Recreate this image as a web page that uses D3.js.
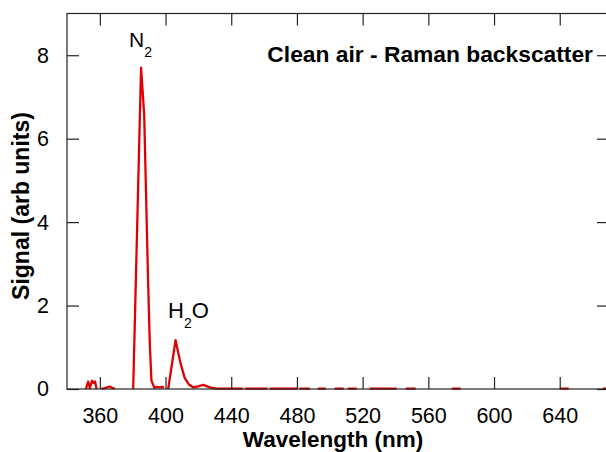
<!DOCTYPE html>
<html>
<head>
<meta charset="utf-8">
<script src="https://cdn.jsdelivr.net/npm/d3@7/dist/d3.min.js"></script>
<style>
  body { margin: 0; background: #fff; }
  svg { display: block; font-family: "Liberation Sans", Arial, sans-serif; }
</style>
</head>
<body>
<svg id="chart" width="606" height="452"></svg>
<script>
// Data (wavelength nm, signal arb units; null = gap)
const wavelength = [
  351.5, 352.9, 353.9, 355.3, 356.3, 357.1, 358.0, null,
  361.0, 363.0, 366.1, 367.3, 369.1, null,
  380.3, 385.1, 387.0, 389.3, 390.4, 391.4, 393.2, 394.7, 396.5, 398.3, 399.0, null,
  401.6, 406.1, 409.1, 411.7, 414.4, 416.8, 419.6, 422.9, 427.0, 431.0, 440.0, 447.0, null,
  448.5, 462.0, null,
  463.5, 480.0, null,
  481.7, 487.8, null,
  492.7, 497.5, null,
  503.0, 508.5, null,
  510.9, 516.4, null,
  524.3, 540.8, null,
  546.2, 552.3, null,
  574.2, 579.7, null,
  640.0, 645.5, null,
  666.2, 670.0
];
const signal = [
  0.0, 0.18, 0.02, 0.2, 0.14, 0.18, 0.0, null,
  0.01, 0.02, 0.06, 0.03, 0.01, null,
  0.0, 7.7, 6.57, 2.7, 1.1, 0.2, 0.03, 0.05, 0.04, 0.05, 0.03, null,
  0.0, 1.17, 0.62, 0.26, 0.1, 0.04, 0.06, 0.1, 0.04, 0.01, 0.01, 0.01, null,
  0.01, 0.01, null,
  0.01, 0.01, null,
  0.01, 0.01, null,
  0.01, 0.01, null,
  0.01, 0.01, null,
  0.01, 0.01, null,
  0.01, 0.01, null,
  0.01, 0.01, null,
  0.01, 0.01, null,
  0.01, 0.01, null,
  0.01, 0.01
];
const xTicks = [360, 400, 440, 480, 520, 560, 600, 640];
const yTicks = [0, 2, 4, 6, 8];
const xDomain = [340, 670];
const yDomain = [0, 9];

const svg = d3.select("#chart");
const L = 67, R = 609, T = 13.5, B = 389;
const x = d3.scaleLinear().domain(xDomain).range([L, R]);
const y = d3.scaleLinear().domain(yDomain).range([B, T]);

const pts = wavelength.map((w, i) => ({w, s: signal[i]}));

svg.append("defs").append("clipPath").attr("id", "clip")
  .append("rect").attr("x", L).attr("y", T).attr("width", R - L).attr("height", B - T + 2);

// line
svg.append("path")
  .datum(pts)
  .attr("clip-path", "url(#clip)")
  .attr("fill", "none")
  .attr("stroke", "#e00000")
  .attr("stroke-width", 2.3)
  .attr("stroke-linejoin", "round")
  .attr("d", d3.line()
    .defined(d => d.w !== null && d.s !== null)
    .x(d => x(d.w)).y(d => y(d.s)));

// axes
const tickLen = 12;
const axB = svg.append("g").attr("transform", `translate(0,${B})`)
  .call(d3.axisBottom(x).tickValues(xTicks).tickSize(-tickLen).tickPadding(tickLen + 7).tickFormat(d3.format("d")));
const axT = svg.append("g").attr("transform", `translate(0,${T})`)
  .call(d3.axisTop(x).tickValues(xTicks).tickSize(-tickLen).tickFormat(""));
const axL = svg.append("g").attr("transform", `translate(${L},0)`)
  .call(d3.axisLeft(y).tickValues(yTicks).tickSize(-tickLen).tickPadding(tickLen + 6).tickFormat(d3.format("d")));
const axR = svg.append("g").attr("transform", `translate(${R},0)`)
  .call(d3.axisRight(y).tickValues(yTicks).tickSize(-tickLen).tickFormat(""));

[axB, axT, axL, axR].forEach(g => {
  g.select(".domain").remove();
  g.selectAll(".tick line").attr("stroke", "#222").attr("stroke-width", 1.2);
  g.selectAll(".tick text").attr("fill", "#000").style("font-size", "21.5px")
    .style("font-family", "'Liberation Sans', Arial, sans-serif");
});
svg.append("rect").attr("x", L).attr("y", T).attr("width", R - L).attr("height", B - T)
  .attr("fill", "none").attr("stroke", "#222").attr("stroke-width", 1.2);

// axis titles
svg.append("text").attr("x", 333).attr("y", 447)
  .attr("text-anchor", "middle").style("font-size", "22.5px").style("font-weight", "bold")
  .text("Wavelength (nm)");
svg.append("text").attr("transform", `translate(29,206) rotate(-90)`)
  .attr("text-anchor", "middle").style("font-size", "23px").style("font-weight", "bold")
  .text("Signal (arb units)");

// title
svg.append("text").attr("x", 593).attr("y", 62)
  .attr("text-anchor", "end").style("font-size", "22.8px").style("font-weight", "bold")
  .text("Clean air - Raman backscatter");

// peak labels
const n2 = svg.append("text").attr("x", 129).attr("y", 47).style("font-size", "21px");
n2.append("tspan").text("N");
n2.append("tspan").attr("dy", 10).style("font-size", "14px").text("2");

const h2o = svg.append("text").attr("x", 168).attr("y", 318).style("font-size", "22px");
h2o.append("tspan").text("H");
h2o.append("tspan").attr("dy", 10).style("font-size", "14px").text("2");
h2o.append("tspan").attr("dy", -10).text("O");
</script>
</body>
</html>
